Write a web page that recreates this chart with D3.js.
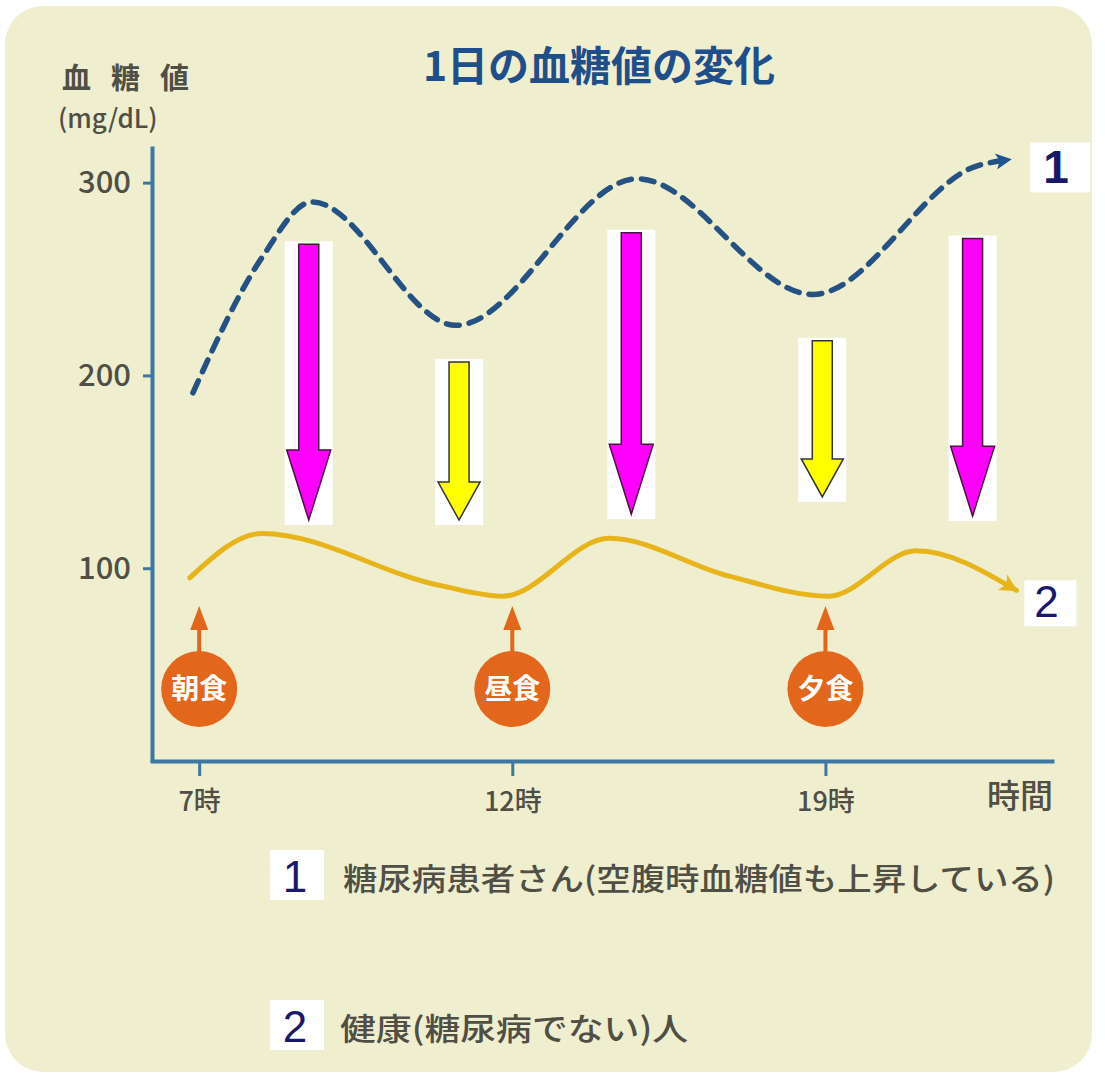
<!DOCTYPE html>
<html>
<head>
<meta charset="utf-8">
<script src="https://cdn.jsdelivr.net/npm/d3@7"></script>
<style>
  body { margin: 0; background: #fff; }
  svg { display: block; }
</style>
</head>
<body>
<svg id="chart" width="1105" height="1077"></svg>
<script>
const width = 1105;
const height = 1077;
const jp = '"Noto Sans CJK JP", "Noto Sans", sans-serif';
const latin = '"Liberation Sans", Arial, sans-serif';

// x positions are "slots": 0 = 7時, 1 = 12時, 2 = 19時 (evenly spaced in the picture)
const xTickLabels = ["7時", "12時", "19時"];
const xTickSlots = [0, 1, 2];
const yTickValues = [100, 200, 300];

// 1: diabetic patient (dashed)
const diabeticSlots = [-0.02, 0.2, 0.36, 0.82, 1.4, 1.96, 2.49, 2.59];
const diabeticValues = [191, 261, 290, 226, 302, 242, 309, 312];

// 2: healthy person (solid)
const healthySlots = [-0.03, 0.2, 0.77, 0.97, 1.31, 1.69, 2.01, 2.29, 2.61];
const healthyValues = [95, 118, 91, 85.5, 115.5, 96, 85.5, 109, 88.5];

// block arrows showing the gap between the two curves
const dropSlots = [0.35, 0.83, 1.38, 1.99, 2.47];
const dropFrom = [268, 207, 274, 218, 271];
const dropTo = [125, 125, 128, 137, 127];
const dropKind = ["big", "small", "big", "small", "big"];

const mealLabels = ["朝食", "昼食", "夕食"];
const mealSlots = [0, 1, 2];

const legendKeys = ["1", "2"];
const legendTexts = ["糖尿病患者さん(空腹時血糖値も上昇している)", "健康(糖尿病でない)人"];

const svg = d3.select("#chart");

const x = d3.scaleLinear().domain([-0.157, 2.73]).range([150, 1054]);
const y = d3.scaleLinear().domain([0, 319]).range([761, 146]);

const axisColor = "#3f77a3";
const textGrey = "#4f4f45";

// panel
svg.append("rect")
  .attr("x", 5).attr("y", 6)
  .attr("width", 1087).attr("height", 1066)
  .attr("rx", 38)
  .attr("fill", "#efeecf");

// title
svg.append("text")
  .attr("x", 599).attr("y", 81)
  .attr("text-anchor", "middle")
  .attr("font-family", jp)
  .attr("font-weight", 700)
  .attr("font-size", 41)
  .attr("fill", "#1f4f8a")
  .text("1日の血糖値の変化");

// y label
svg.append("text")
  .attr("x", 62).attr("y", 89)
  .attr("font-family", jp)
  .attr("font-weight", 700)
  .attr("font-size", 29)
  .attr("letter-spacing", 20)
  .attr("fill", textGrey)
  .text("血糖値");

svg.append("text")
  .attr("x", 58).attr("y", 128)
  .attr("font-family", jp)
  .attr("font-weight", 500)
  .attr("font-size", 26)
  .attr("fill", textGrey)
  .text("(mg/dL)");

// axes
const yAxis = svg.append("g")
  .attr("transform", "translate(152,0)")
  .call(d3.axisLeft(y).tickValues(yTickValues).tickSize(9).tickSizeOuter(0).tickPadding(12));

const xAxis = svg.append("g")
  .attr("transform", `translate(0,${y(0)})`)
  .call(d3.axisBottom(x).tickValues(xTickSlots).tickFormat((d, i) => xTickLabels[i]).tickSize(15).tickSizeOuter(0));

[yAxis, xAxis].forEach(g => {
  g.select(".domain").attr("stroke", axisColor).attr("stroke-width", 4);
  g.selectAll(".tick line").attr("stroke", axisColor).attr("stroke-width", 3);
  g.selectAll("text")
    .attr("font-family", jp)
    .attr("font-weight", 500)
    .attr("fill", textGrey);
});
yAxis.selectAll("text").attr("font-size", 31);
xAxis.selectAll("text").attr("font-size", 27).attr("y", 50).attr("dy", null);

svg.append("text")
  .attr("x", 1053).attr("y", 808)
  .attr("text-anchor", "end")
  .attr("font-family", jp)
  .attr("font-weight", 500)
  .attr("font-size", 33)
  .attr("fill", textGrey)
  .text("時間");

// markers for line ends
const defs = svg.append("defs");
defs.append("marker")
  .attr("id", "headBlue")
  .attr("viewBox", "0 0 10 10")
  .attr("refX", 9).attr("refY", 5)
  .attr("markerUnits", "userSpaceOnUse")
  .attr("markerWidth", 24).attr("markerHeight", 16)
  .attr("orient", "auto")
  .append("path").attr("d", "M0,0 L10,5 L0,10 L2.5,5 z").attr("fill", "#1f5590");
defs.append("marker")
  .attr("id", "headYellow")
  .attr("viewBox", "0 0 10 10")
  .attr("refX", 9).attr("refY", 5)
  .attr("markerUnits", "userSpaceOnUse")
  .attr("markerWidth", 26).attr("markerHeight", 18)
  .attr("orient", "auto")
  .append("path").attr("d", "M0,0 L10,5 L0,10 L2.5,5 z").attr("fill", "#e8b41c");

const line = d3.line()
  .x(d => x(d[0]))
  .y(d => y(d[1]))
  .curve(d3.curveMonotoneX);

const diabetic = diabeticSlots.map((s, i) => [s, diabeticValues[i]]);
const healthy = healthySlots.map((s, i) => [s, healthyValues[i]]);

svg.append("path")
  .attr("d", line(diabetic))
  .attr("fill", "none")
  .attr("stroke", "#255282")
  .attr("stroke-width", 5.5)
  .attr("stroke-dasharray", "13 10")
  .attr("stroke-linecap", "round")
  .attr("marker-end", "url(#headBlue)");

svg.append("path")
  .attr("d", line(healthy))
  .attr("fill", "none")
  .attr("stroke", "#e8b41c")
  .attr("stroke-width", 5)
  .attr("stroke-linecap", "round")
  .attr("marker-end", "url(#headYellow)");

// series labels at line ends
const seriesEnds = [diabetic[diabetic.length - 1], healthy[healthy.length - 1]];
const endBoxes = [{ dx: 20, dy: -17, w: 60, h: 50, size: 46, weight: 700 },
                  { dx: 8, dy: -10, w: 52, h: 46, size: 44, weight: 400 }];
seriesEnds.forEach((p, i) => {
  const b = endBoxes[i];
  const bx = x(p[0]) + b.dx, by = y(p[1]) + b.dy;
  svg.append("rect").attr("x", bx).attr("y", by).attr("width", b.w).attr("height", b.h).attr("fill", "#fff");
  svg.append("text")
    .attr("x", bx + b.w / 2 - 4).attr("y", by + b.h - 9)
    .attr("text-anchor", "middle")
    .attr("font-family", latin)
    .attr("font-weight", b.weight)
    .attr("font-size", b.size)
    .attr("fill", "#18186c")
    .text(legendKeys[i]);
});

// block arrows
dropSlots.forEach((s, i) => {
  const big = dropKind[i] === "big";
  const cx = x(s), top = y(dropFrom[i]), tip = y(dropTo[i]);
  const sw = 10, hw = big ? 22 : 21, hl = big ? 70 : 38;
  svg.append("rect")
    .attr("x", cx - 24).attr("y", top - 3)
    .attr("width", 48).attr("height", tip - top + 8)
    .attr("fill", "#fff");
  svg.append("path")
    .attr("d", `M${cx - sw},${top} L${cx + sw},${top} L${cx + sw},${tip - hl} L${cx + hw},${tip - hl} L${cx},${tip} L${cx - hw},${tip - hl} L${cx - sw},${tip - hl} Z`)
    .attr("fill", big ? "#ff00ff" : "#ffff00")
    .attr("stroke", big ? "#4a1040" : "#333")
    .attr("stroke-width", 1.5)
    .attr("stroke-linejoin", "miter");
});

// meals
const mealCy = 689, mealR = 38;
mealSlots.forEach((s, i) => {
  const cx = x(s);
  const g = svg.append("g");
  g.append("line")
    .attr("x1", cx).attr("x2", cx)
    .attr("y1", mealCy - mealR + 2).attr("y2", 625)
    .attr("stroke", "#e2661c").attr("stroke-width", 4);
  g.append("path")
    .attr("d", `M${cx},606 L${cx + 9},630 L${cx - 9},630 Z`)
    .attr("fill", "#e2661c");
  g.append("circle")
    .attr("cx", cx).attr("cy", mealCy).attr("r", mealR)
    .attr("fill", "#e2661c");
  g.append("text")
    .attr("x", cx).attr("y", mealCy + 10)
    .attr("text-anchor", "middle")
    .attr("font-family", jp)
    .attr("font-weight", 700)
    .attr("font-size", 28)
    .attr("fill", "#fff")
    .text(mealLabels[i]);
});

// legend
const legendRows = [{ y: 850, textX: 343, len: 712 }, { y: 1000, textX: 340, len: 348 }];
legendRows.forEach((r, i) => {
  svg.append("rect").attr("x", 270).attr("y", r.y).attr("width", 54).attr("height", 50).attr("fill", "#fff");
  svg.append("text")
    .attr("x", 295).attr("y", r.y + 42)
    .attr("text-anchor", "middle")
    .attr("font-family", latin)
    .attr("font-size", 44)
    .attr("fill", "#18186c")
    .text(legendKeys[i]);
  svg.append("text")
    .attr("x", r.textX).attr("y", r.y + 40)
    .attr("font-family", jp)
    .attr("font-weight", 500)
    .attr("font-size", 31)
    .attr("textLength", r.len)
    .attr("lengthAdjust", "spacingAndGlyphs")
    .attr("fill", textGrey)
    .text(legendTexts[i]);
});
</script>
</body>
</html>
